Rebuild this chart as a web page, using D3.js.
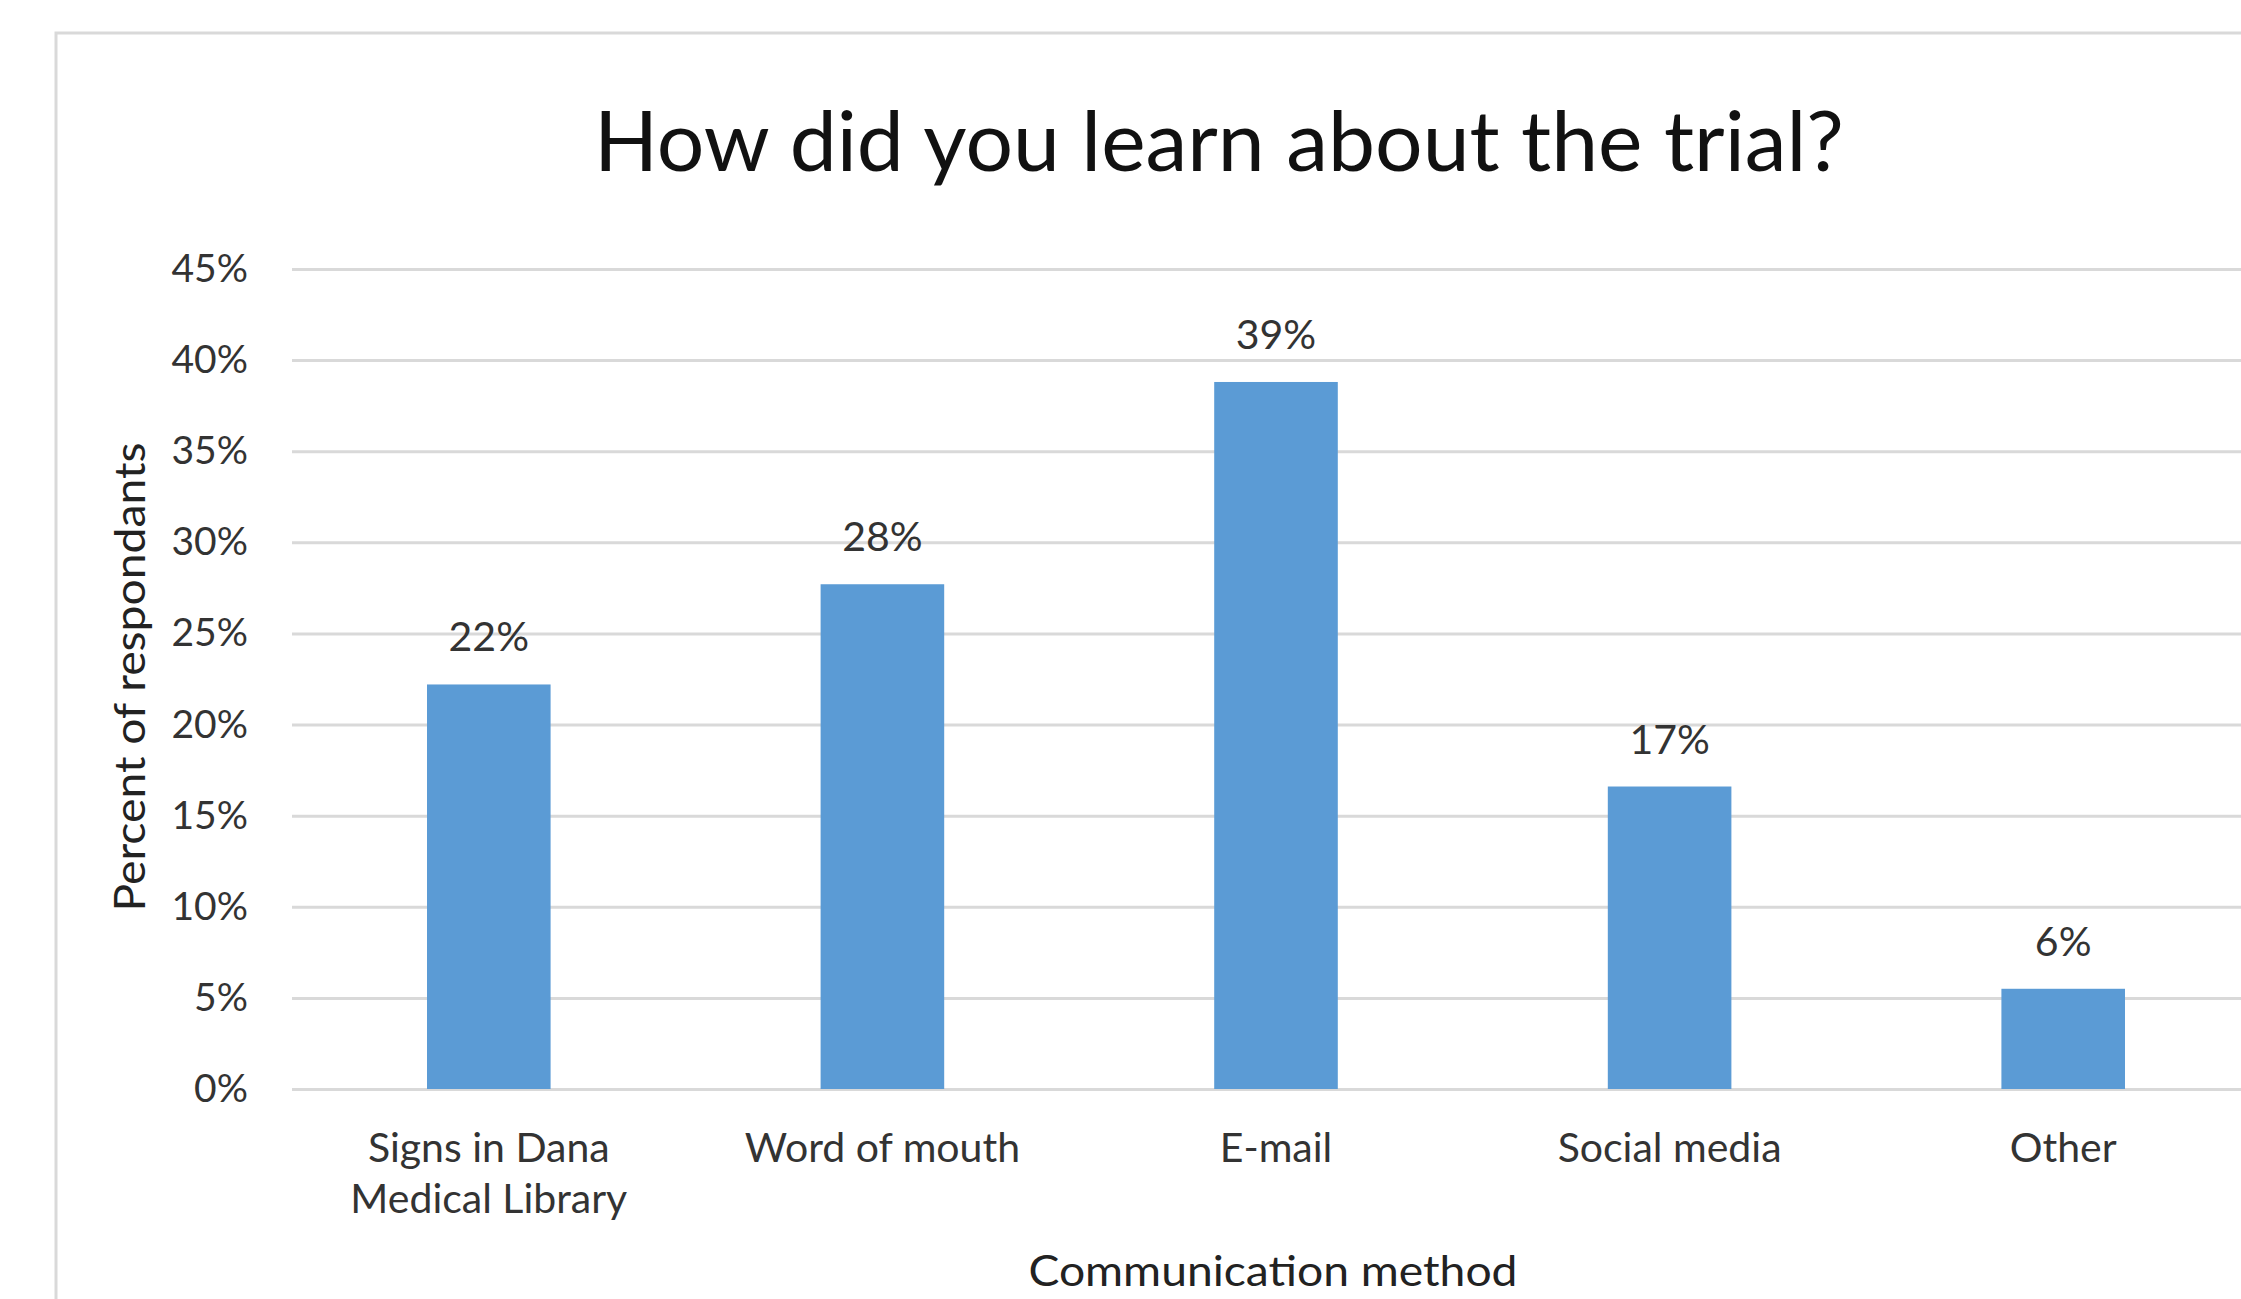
<html>
  <head>
    <meta charset="utf-8">
    <title>How did you learn about the trial?</title>
    <script src="https://d3js.org/d3.v7.min.js"></script>
    <style>
      body { margin: 0; background: #fff; }
      text { font-family: Lato, "Open Sans", sans-serif; }
    </style>
  </head>
  <body>
    <svg width="2241" height="1299"></svg>

    <script type="text/javascript">
      // data
      var categories = ["Signs in Dana Medical Library", "Word of mouth", "E-mail", "Social media", "Other"];
      var percents = [22.2, 27.7, 38.8, 16.6, 5.5];
      var yTicks = [0, 5, 10, 15, 20, 25, 30, 35, 40, 45];

      var chartTitle = "How did you learn about the trial?";
      var xTitle = "Communication method";
      var yTitle = "Percent of respondants";

      var plotLeft = 292, plotTop = 269, plotBottom = 1089;
      var step = 393.6;
      var plotRight = plotLeft + step * categories.length;   // runs past the right edge, like the original crop

      var svg = d3.select("svg");

      // chart frame (cropped at right and bottom)
      svg.append("rect")
        .attr("x", 56).attr("y", 33)
        .attr("width", 2400).attr("height", 1500)
        .attr("fill", "#fff")
        .attr("stroke", "#d9d9d9")
        .attr("stroke-width", 3);

      var xScale = d3.scaleBand()
        .domain(categories)
        .range([plotLeft, plotRight])
        .paddingInner(0.686)
        .paddingOuter(0.343);

      var yScale = d3.scaleLinear().domain([0, 45]).range([plotBottom, plotTop]);

      // gridlines + y labels
      var yAxis = d3.axisLeft(yScale)
        .tickValues(yTicks)
        .tickSize(-(plotRight - plotLeft))
        .tickPadding(44)
        .tickFormat(d => d + "%");

      var yAxisGroup = svg.append("g")
        .attr("class", "yAxis")
        .attr("transform", "translate(" + plotLeft + ",0)")
        .call(yAxis);
      yAxisGroup.select(".domain").remove();
      yAxisGroup.selectAll("line").attr("stroke", "#d9d9d9").attr("stroke-width", 3);
      yAxisGroup.selectAll("text")
        .attr("fill", "#333")
        .style("font-size", "39px")
        .style("font-family", "Lato, sans-serif");

      // bars
      svg.selectAll("rect.bar")
        .data(percents)
        .enter()
        .append("rect")
        .attr("class", "bar")
        .attr("x", (d, i) => xScale(categories[i]))
        .attr("y", d => yScale(d))
        .attr("width", xScale.bandwidth())
        .attr("height", d => yScale(0) - yScale(d))
        .attr("fill", "#5b9bd5");

      // value labels
      svg.selectAll("text.value")
        .data(percents)
        .enter()
        .append("text")
        .attr("class", "value")
        .attr("x", (d, i) => xScale(categories[i]) + xScale.bandwidth() / 2)
        .attr("y", d => yScale(d) - 33)
        .attr("text-anchor", "middle")
        .attr("fill", "#333")
        .style("font-size", "41px")
        .text(d => Math.round(d) + "%");

      // category labels, wrapped like Excel does
      var xAxis = d3.axisBottom(xScale).tickSize(0).tickPadding(0);
      var xAxisGroup = svg.append("g")
        .attr("class", "xAxis")
        .attr("transform", "translate(0," + plotBottom + ")")
        .call(xAxis);
      xAxisGroup.select(".domain").remove();
      xAxisGroup.selectAll("text")
        .attr("fill", "#333")
        .style("font-size", "41px")
        .style("font-family", "Lato, sans-serif")
        .attr("dy", null)
        .attr("y", 73)
        .each(function(d) {
          var t = d3.select(this);
          var words = d.split(" ");
          t.text(null);
          var line = [], lineNo = 0;
          var tspan = t.append("tspan").attr("x", 0).attr("y", 73);
          words.forEach(function(w) {
            line.push(w);
            tspan.text(line.join(" "));
            if (tspan.node().getComputedTextLength() > 320 && line.length > 1) {
              line.pop();
              tspan.text(line.join(" "));
              line = [w];
              lineNo++;
              tspan = t.append("tspan").attr("x", 0).attr("y", 73 + lineNo * 51).text(w);
            }
          });
        });

      // titles
      svg.append("text")
        .attr("x", 1219).attr("y", 171)
        .attr("text-anchor", "middle")
        .attr("fill", "#111")
        .style("font-size", "84px")
        .text(chartTitle);

      svg.append("text")
        .attr("x", (plotLeft + plotRight) / 2 - 3).attr("y", 1286)
        .attr("text-anchor", "middle")
        .attr("fill", "#222")
        .style("font-size", "43px")
        .attr("textLength", 489)
        .attr("lengthAdjust", "spacingAndGlyphs")
        .text(xTitle);

      svg.append("text")
        .attr("transform", "translate(145,677) rotate(-90)")
        .attr("text-anchor", "middle")
        .attr("fill", "#222")
        .style("font-size", "43px")
        .attr("textLength", 469)
        .attr("lengthAdjust", "spacingAndGlyphs")
        .text(yTitle);
    </script>
  </body>
</html>
